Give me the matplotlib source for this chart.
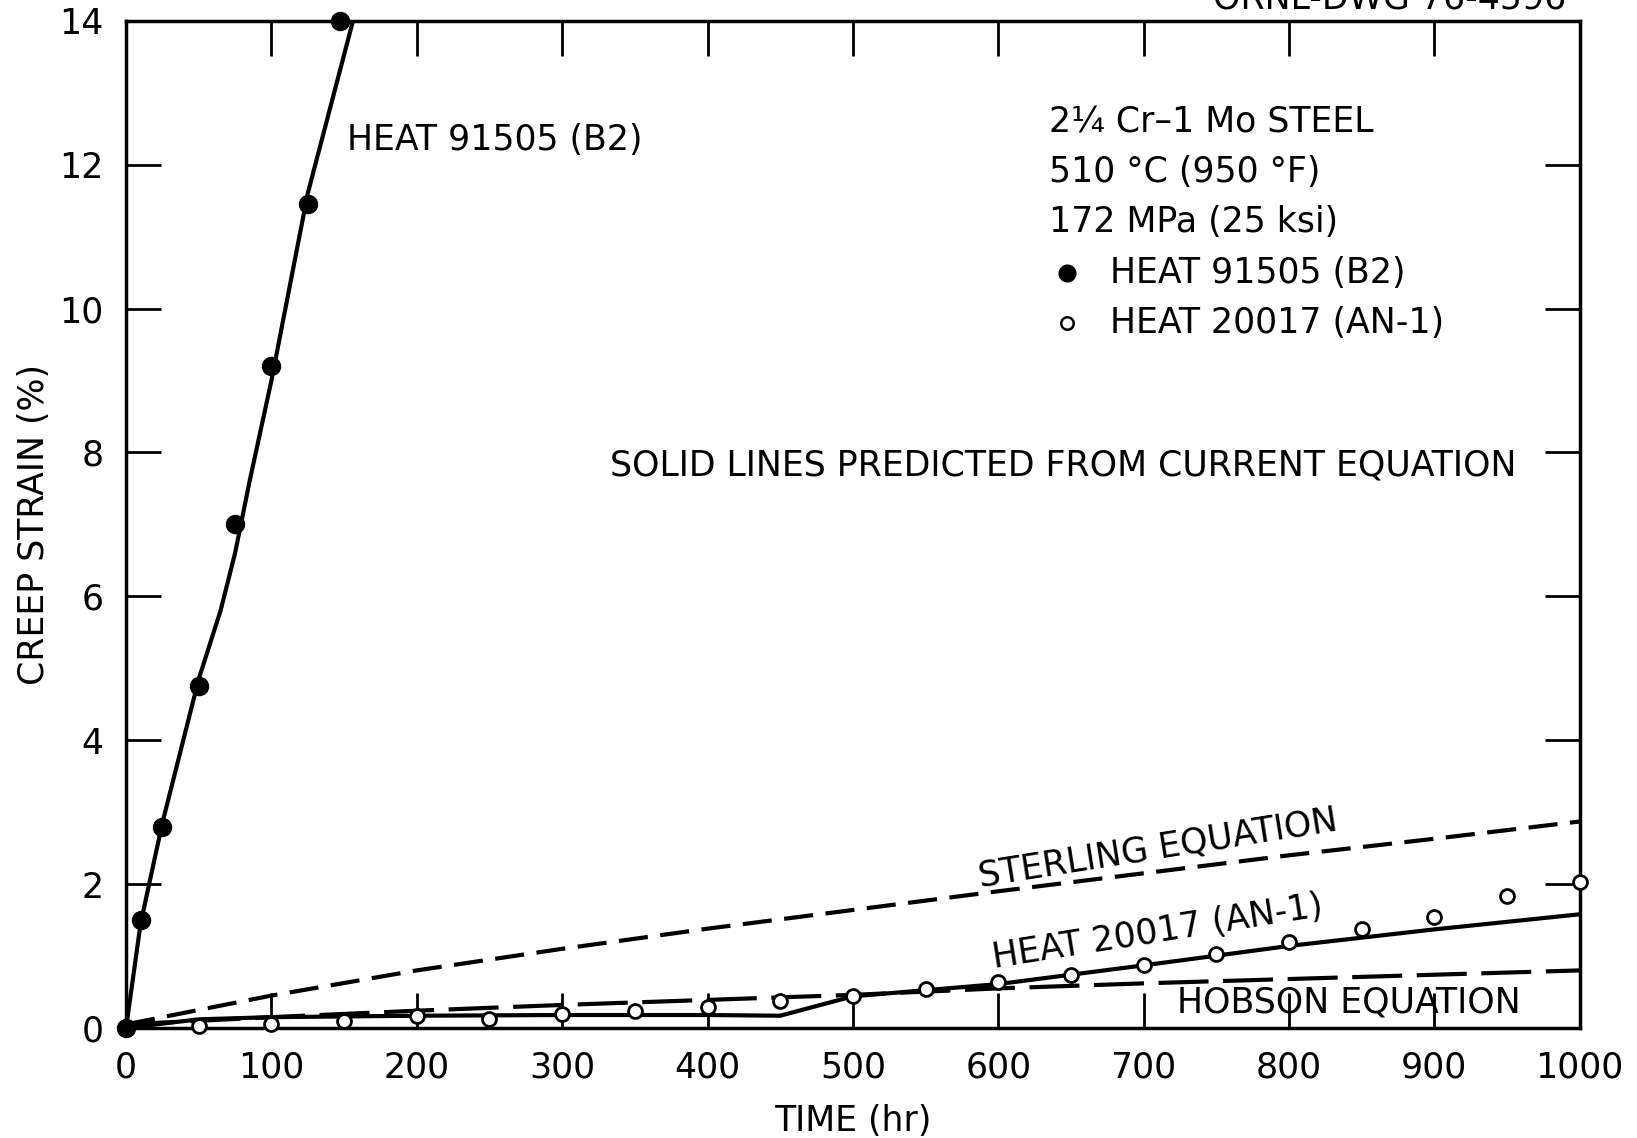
import matplotlib
matplotlib.use("Agg")
import matplotlib.pyplot as plt

# --- data ---
b2_time = [0, 10, 25, 50, 75, 100, 125, 147]
b2_strain = [0.0, 1.5, 2.8, 4.75, 7.0, 9.2, 11.45, 14.0]

an1_time = [50, 100, 150, 200, 250, 300, 350, 400, 450, 500,
            550, 600, 650, 700, 750, 800, 850, 900, 950, 1000]
an1_strain = [0.03, 0.05, 0.10, 0.16, 0.13, 0.19, 0.23, 0.29, 0.38, 0.45,
              0.54, 0.64, 0.74, 0.88, 1.03, 1.19, 1.38, 1.54, 1.83, 2.03]

# predicted (current equation) curves
b2_fit_time = [0, 10, 25, 50, 65, 75, 85, 100, 125, 160]
b2_fit_strain = [0.0, 1.45, 2.85, 4.85, 5.8, 6.6, 7.6, 9.0, 11.6, 14.3]

an1_fit_time = [0, 50, 100, 200, 300, 400, 450, 500, 600, 700, 800, 900, 1000]
an1_fit_strain = [0.0, 0.12, 0.15, 0.17, 0.18, 0.18, 0.17, 0.44, 0.61, 0.87, 1.14, 1.37, 1.58]

sterling_time = [0, 100, 200, 300, 400, 500, 600, 700, 800, 900, 1000]
sterling_strain = [0.05, 0.45, 0.8, 1.1, 1.38, 1.64, 1.9, 2.15, 2.4, 2.63, 2.87]

hobson_time = [0, 100, 200, 300, 400, 500, 600, 700, 800, 900, 1000]
hobson_strain = [0.05, 0.15, 0.24, 0.32, 0.39, 0.46, 0.55, 0.62, 0.68, 0.74, 0.8]

x_ticks = list(range(0, 1001, 100))
y_ticks = list(range(0, 15, 2))

FS = 25
plt.rcParams["font.family"] = ["DejaVu Sans"]

fig = plt.figure(figsize=(16.37, 11.38), dpi=100)
ax = fig.add_axes([0.077, 0.0967, 0.888, 0.885])

lw = 3.0
ax.plot(b2_fit_time, b2_fit_strain, color="black", lw=lw)
ax.plot(an1_fit_time, an1_fit_strain, color="black", lw=lw)
ax.plot(sterling_time, sterling_strain, color="black", lw=lw, dashes=(7, 3))
ax.plot(hobson_time, hobson_strain, color="black", lw=lw, dashes=(12, 3.5))

ax.plot(b2_time, b2_strain, "o", color="black", ms=13, clip_on=False, zorder=5)
ax.plot(an1_time, an1_strain, "o", mfc="white", mec="black", mew=2,
        ms=10, clip_on=False, zorder=5)

ax.set_xlim(0, 1000)
ax.set_ylim(0, 14)
ax.set_xticks(x_ticks)
ax.set_yticks(y_ticks)
ax.tick_params(direction="in", length=25, width=2, labelsize=FS, pad=16,
               top=True, right=True)
for s in ax.spines.values():
    s.set_linewidth(2.5)

ax.set_xlabel("TIME (hr)", fontsize=FS, labelpad=14)
ax.set_ylabel("CREEP STRAIN (%)", fontsize=FS, labelpad=6)

# --- annotations ---
ax.text(152, 12.35, "HEAT 91505 (B2)", fontsize=FS, va="center")

ax.text(635, 12.58, "2¼ Cr–1 Mo STEEL", fontsize=FS, va="center")
ax.text(635, 11.9, "510 °C (950 °F)", fontsize=FS, va="center")
ax.text(635, 11.2, "172 MPa (25 ksi)", fontsize=FS, va="center")
ax.plot([647], [10.5], "o", color="black", ms=12)
ax.text(677, 10.5, "HEAT 91505 (B2)", fontsize=FS, va="center")
ax.plot([647], [9.8], "o", mfc="white", mec="black", mew=1.8, ms=9)
ax.text(677, 9.8, "HEAT 20017 (AN-1)", fontsize=FS, va="center")

ax.text(333, 7.82, "SOLID LINES PREDICTED FROM CURRENT EQUATION",
        fontsize=FS, va="center")

ax.text(710, 2.5, "STERLING EQUATION", fontsize=FS, ha="center",
        va="center", rotation=9, rotation_mode="anchor")
ax.text(710, 1.33, "HEAT 20017 (AN-1)", fontsize=FS, ha="center",
        va="center", rotation=9, rotation_mode="anchor")
ax.text(723, 0.36, "HOBSON EQUATION", fontsize=FS, va="center")

# drawing number, cut off by the top edge in the scan
fig.text(0.957, 0.9926, "ORNL-DWG 76-4596", fontsize=FS, ha="right",
         va="baseline")

fig.savefig("out.png", dpi=100)
